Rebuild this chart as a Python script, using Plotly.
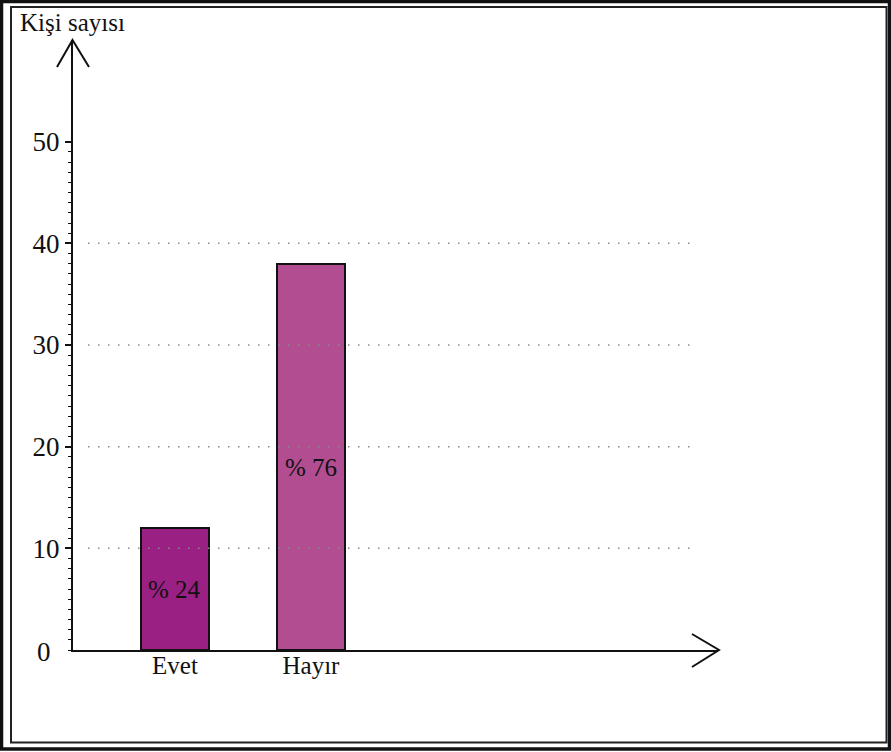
import plotly.graph_objects as go

categories = ["Evet", "Hayır"]
values = [12, 38]
percent_labels = ["% 24", "% 76"]
bar_colors = ["#9A2083", "#B14D90"]
y_label_vals = [10, 20, 30, 40, 50]
grid_vals = [10, 20, 30, 40]
y_title = "Kişi sayısı"

W, H = 891, 752
FONT = "Liberation Serif, Times New Roman, serif"
label_shift = [0, -11]

def px(x):
    return x / W

def py(y):
    return 1 - y / H

fig = go.Figure()
fig.add_trace(go.Bar(
    x=categories, y=values, width=0.5,
    marker=dict(color=bar_colors, line=dict(color="#111111", width=2)),
    hoverinfo="skip",
))

x_dom = [px(73), px(718)]
y_dom = [py(650), py(40)]
yr = [0, 60]

common_y = dict(range=yr, domain=y_dom, showgrid=False, zeroline=False,
                fixedrange=True)

shapes = []
# grid lines
for g in grid_vals:
    shapes.append(dict(type="line", xref="paper", yref="y", x0=px(88), x1=px(690),
                       y0=g, y1=g, line=dict(color="#8a8a8a", width=1.5, dash="1.5px,8.5px")))
# arrowheads
shapes.append(dict(type="path", xref="paper", yref="paper",
                   path=f"M {px(57)} {py(67)} L {px(72.5)} {py(40)} L {px(89)} {py(67)}",
                   line=dict(color="#111111", width=2)))
shapes.append(dict(type="path", xref="paper", yref="paper",
                   path=f"M {px(692)} {py(634)} L {px(719)} {py(650)} L {px(692)} {py(667)}",
                   line=dict(color="#111111", width=2)))
# frame
shapes.append(dict(type="rect", xref="paper", yref="paper", x0=px(1.5), x1=px(889.5),
                   y0=py(1.5), y1=py(749), line=dict(color="#111111", width=3.5)))
shapes.append(dict(type="rect", xref="paper", yref="paper", x0=px(11), x1=px(886.5),
                   y0=py(7), y1=py(742.5), line=dict(color="#222222", width=2)))

annotations = [
    dict(text=y_title, xref="paper", yref="paper", x=px(18), y=py(22),
         xanchor="left", yanchor="middle", showarrow=False,
         font=dict(family=FONT, size=25, color="#111111")),
    dict(text="0", xref="paper", yref="y", x=px(44), y=0, yshift=-2,
         xanchor="center", yanchor="middle", showarrow=False,
         font=dict(family=FONT, size=27, color="#111111")),
]
for cat, v, lab, sh in zip(categories, values, percent_labels, label_shift):
    annotations.append(dict(text=lab, x=cat, y=v / 2, xref="x", yref="y", yshift=sh,
                            xanchor="center", yanchor="middle", showarrow=False,
                            font=dict(family=FONT, size=25, color="#111111")))

fig.update_layout(
    width=W, height=H, margin=dict(l=0, r=0, t=0, b=0),
    paper_bgcolor="white", plot_bgcolor="white", showlegend=False,
    bargap=0,
    xaxis=dict(type="category", categoryorder="array", categoryarray=categories,
               range=[-0.75, 3.993], domain=x_dom, anchor="y",
               showline=True, linecolor="#111111", linewidth=2, showgrid=False,
               zeroline=False, ticks="", ticklabelstandoff=-8,
               tickfont=dict(family=FONT, size=25, color="#111111"), fixedrange=True),
    yaxis=dict(**common_y, anchor="x", showline=True, linecolor="#111111", linewidth=2,
               tickmode="array", tickvals=[0] + y_label_vals,
               ticktext=[""] + [str(v) for v in y_label_vals],
               ticks="outside", ticklen=6, tickwidth=1.5, tickcolor="#111111",
               ticklabelstandoff=0,
               tickfont=dict(family=FONT, size=27, color="#111111"),
               minor=dict(tickmode="array", tickvals=list(range(0, 51)), ticks="outside",
                          ticklen=3, tickwidth=1, tickcolor="#111111")),
    yaxis2=dict(**common_y, overlaying="y", anchor="x", side="left",
                tickmode="array", tickvals=[0] + y_label_vals, showticklabels=False,
                ticks="inside", ticklen=6, tickwidth=1.5, tickcolor="#111111",
                minor=dict(tickmode="array", tickvals=list(range(0, 51)), ticks="inside",
                           ticklen=3, tickwidth=1, tickcolor="#111111")),
    yaxis3=dict(**common_y, overlaying="y", anchor="x", side="left",
                tickmode="array", tickvals=[5, 15, 25, 35, 45], showticklabels=False,
                ticks="outside", ticklen=4.5, tickwidth=1.5, tickcolor="#111111"),
    yaxis4=dict(**common_y, overlaying="y", anchor="x", side="left",
                tickmode="array", tickvals=[5, 15, 25, 35, 45], showticklabels=False,
                ticks="inside", ticklen=4.5, tickwidth=1.5, tickcolor="#111111"),
    shapes=shapes,
    annotations=annotations,
)

fig.write_html("out.html", config=dict(displayModeBar=False),
               post_script="document.body.style.margin='0';")
